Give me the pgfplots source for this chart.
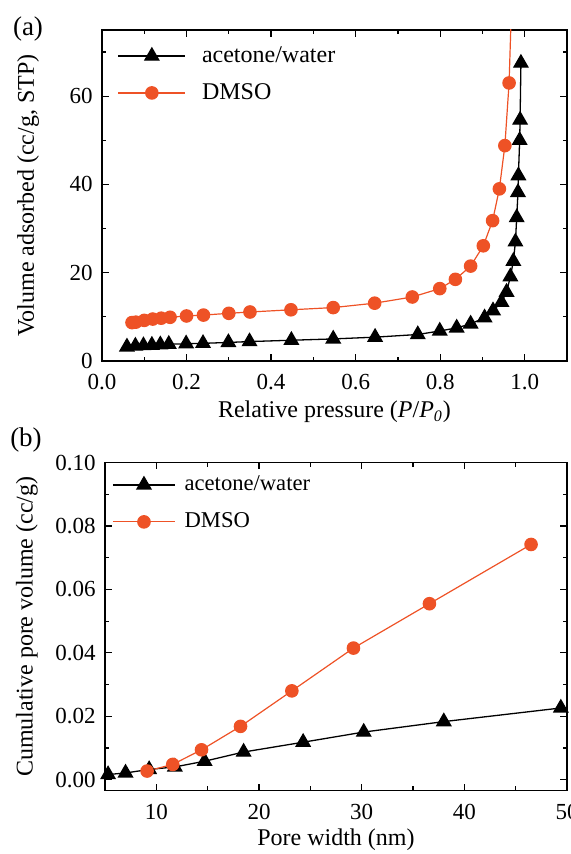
\documentclass[border=0pt]{standalone}
\usepackage{fontspec}
\setmainfont{Liberation Serif}
\usepackage{pgfplots}
\pgfplotsset{compat=1.18}
\definecolor{dmso}{RGB}{238,82,38}

\pgfplotsset{
  panel/.style={
    scale only axis, anchor=south west,
    axis line style={line width=0.65pt},
    tick align=inside, tick pos=both,
    major tick length=3.3pt, minor tick length=2.2pt,
    every tick/.style={line width=0.6pt, black},
    tick label style={font=\fontsize{11.5}{13}\selectfont},
    /pgf/number format/assume math mode=true,
    xticklabel style={yshift=-3pt},
    yticklabel style={xshift=-1.2pt},
    legend cell align=left,
    legend style={draw=none, fill=none, anchor=north west, row sep=5pt},
  },
  aw/.style={black, line width=0.65pt, mark=triangle*, mark size=4pt,
             mark options={solid, fill=black}},
  dm/.style={dmso, line width=0.6pt, mark=*, mark size=3.1pt,
             mark options={solid, fill=dmso, draw=dmso}},
}

\begin{document}
\begin{tikzpicture}
\useasboundingbox (0,0) rectangle (285pt,427pt);

% (a) N2 isotherms
\begin{axis}[panel,
  at={(51pt,246.5pt)}, width=232.5pt, height=165.5pt,
  xmin=0, xmax=1.1, ymin=0, ymax=75,
  xtick={0,0.2,0.4,0.6,0.8,1.0}, minor xtick={0.1,0.3,0.5,0.7,0.9,1.1},
  ytick={0,20,40,60}, minor ytick={10,30,50,70},
  xticklabel style={/pgf/number format/.cd, fixed, fixed zerofill, precision=1},
  xlabel={Relative pressure (\textit{P}/\textit{P}\textsubscript{\textit{0}})},
  ylabel={Volume adsorbed (cc/g, STP)},
  every axis x label/.style={at={(axis description cs:0.5,-0.154)}, anchor=center,
                             font=\fontsize{12}{14}\selectfont},
  every axis y label/.style={at={(axis description cs:-0.159,0.5)}, rotate=90, anchor=center,
                             font=\fontsize{12}{14}\selectfont},
  legend style={at={(axis description cs:0.02,0.975)}, font=\fontsize{12}{14}\selectfont,
                /tikz/every odd column/.append style={column sep=6pt}},
  legend image code/.code={\draw[#1, mark repeat=2, mark phase=2]
      plot coordinates {(0pt,0pt) (16.75pt,0pt) (33.5pt,0pt)};},
]
\addplot[aw] coordinates {
  (0.059,3.2) (0.079,3.4) (0.098,3.5) (0.118,3.6) (0.138,3.7) (0.158,3.8)
  (0.199,3.9) (0.239,4.0) (0.299,4.2) (0.349,4.4) (0.448,4.7) (0.547,5.0)
  (0.646,5.4) (0.747,6.0) (0.799,6.8) (0.839,7.5) (0.872,8.4) (0.905,9.8)
  (0.925,11.4) (0.945,13.3) (0.957,15.6) (0.966,19.1) (0.973,22.6) (0.978,27.0)
  (0.981,32.5) (0.984,38.2) (0.985,42.0) (0.988,50.0) (0.989,54.6) (0.991,67.5)
};
\addlegendentry{acetone/water}
\addplot[dm] coordinates {
  (0.071,8.7) (0.080,8.8) (0.100,9.2) (0.120,9.5) (0.140,9.7) (0.161,9.9)
  (0.200,10.2) (0.240,10.4) (0.300,10.8) (0.350,11.1) (0.447,11.6) (0.547,12.1)
  (0.645,13.1) (0.734,14.5) (0.799,16.4) (0.836,18.5) (0.872,21.5) (0.902,26.1)
  (0.924,31.8) (0.940,39.0) (0.953,48.8) (0.963,63.0) (0.975,100)
};
\addlegendentry{DMSO}
\end{axis}

% (b) cumulative pore volume
\begin{axis}[panel,
  at={(52.5pt,31.65pt)}, width=231pt, height=164pt,
  xmin=5, xmax=50, ymin=-0.0035, ymax=0.10,
  xtick={10,20,30,40,50}, minor xtick={15,25,35,45},
  ytick={0,0.02,0.04,0.06,0.08,0.10}, minor ytick={0.01,0.03,0.05,0.07,0.09},
  yticklabel style={/pgf/number format/.cd, fixed, fixed zerofill, precision=2},
  scaled y ticks=false,
  xlabel={Pore width (nm)},
  ylabel={Cumulative pore volume (cc/g)},
  every axis x label/.style={at={(axis description cs:0.5,-0.150)}, anchor=center,
                             font=\fontsize{12}{14}\selectfont},
  every axis y label/.style={at={(axis description cs:-0.169,0.5)}, rotate=90, anchor=center,
                             font=\fontsize{12}{14}\selectfont},
  legend style={at={(axis description cs:0.002,0.985)}, font=\fontsize{11.3}{13}\selectfont,
                row sep=5.5pt, /tikz/every odd column/.append style={column sep=2.5pt}},
  legend image code/.code={\draw[#1, mark repeat=2, mark phase=2]
      plot coordinates {(0pt,0pt) (15.5pt,0pt) (31pt,0pt)};},
]
\addplot[aw] coordinates {
  (5.3,0.0016) (7.0,0.0021) (9.3,0.0032) (11.8,0.0040) (14.7,0.0058)
  (18.5,0.0087) (24.3,0.0118) (30.2,0.0150) (38.0,0.0183) (49.4,0.0226)
};
\addlegendentry{acetone/water}
\addplot[dm] coordinates {
  (9.1,0.0027) (11.6,0.0048) (14.4,0.0094) (18.2,0.0168) (23.2,0.0280)
  (29.2,0.0415) (36.6,0.0555) (46.5,0.0742)
};
\addlegendentry{DMSO}
\end{axis}

\node[font=\fontsize{13.5}{15}\selectfont] at (14pt,412.5pt) {(a)};
\node[font=\fontsize{13.5}{15}\selectfont] at (13pt,207pt) {(b)};
\end{tikzpicture}
\end{document}
